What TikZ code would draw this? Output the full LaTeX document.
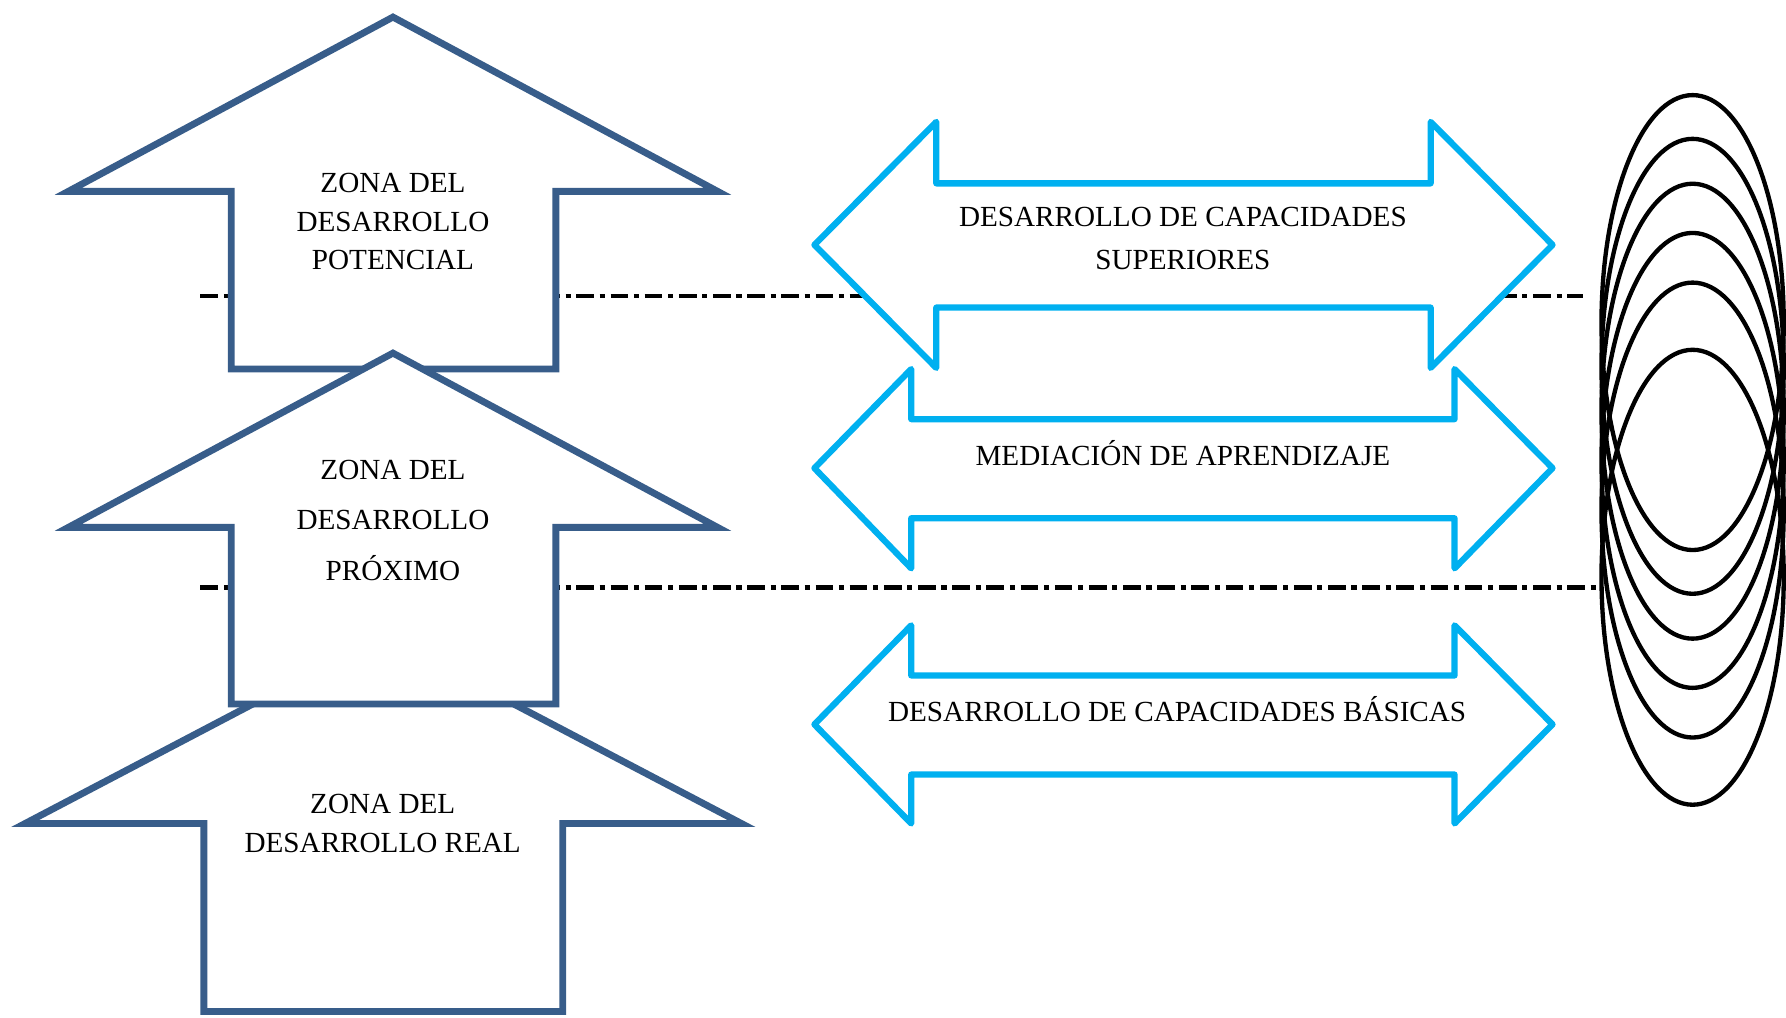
\documentclass[tikz,border=0pt]{standalone}
\usepackage{fontspec}
\setmainfont{Liberation Serif}
\definecolor{zoneblue}{HTML}{385D8A}
\definecolor{skyblue}{HTML}{00B0F0}
\begin{document}
\begin{tikzpicture}[x=1pt,y=-1pt,
  zone/.style={draw=zoneblue, fill=white, line width=6pt, miter limit=10},
  dbl/.style={draw=skyblue, fill=white, line width=5.5pt, line join=round},
  level/.style={draw=black, line width=4pt, dash pattern=on 15.5pt off 5pt on 4.5pt off 5pt},
  ring/.style={draw=black, line width=3.8pt},
  lbl/.style={anchor=base, inner sep=0pt, font=\fontsize{25.6}{30}\selectfont}]
\useasboundingbox (0,0) rectangle (1568,893);

% dash-dot level lines
\coordinate (l1a) at (176,260);
\coordinate (l1b) at (1390,260);
\coordinate (l2a) at (176,516);
\coordinate (l2b) at (1404,516);
\draw[level] (l1a) -- (l1b);
\draw[level] (l2a) -- (l2b);

% block arrows (zones)
\draw[zone] (345,15) -- (630,168) -- (488,168) -- (488,324) -- (203,324) -- (203,168) -- (60,168) -- cycle;
\draw[zone] (336.5,558) -- (651,723) -- (494,723) -- (494,888) -- (179,888) -- (179,723) -- (22,723) -- cycle;
\draw[zone] (345,310) -- (630,463) -- (488,463) -- (488,618) -- (203,618) -- (203,463) -- (60,463) -- cycle;

% double arrows
\draw[dbl] (715,215) -- (822,107) -- (822,161) -- (1256,161) -- (1256,107) -- (1363,215)
  -- (1256,323) -- (1256,270) -- (822,270) -- (822,323) -- cycle;
\draw[dbl] (715,411) -- (800,324) -- (800,368) -- (1277,368) -- (1277,324) -- (1363,411)
  -- (1277,499) -- (1277,455) -- (800,455) -- (800,499) -- cycle;
\draw[dbl] (715,636) -- (800,549) -- (800,593) -- (1277,593) -- (1277,549) -- (1363,636)
  -- (1277,723) -- (1277,680) -- (800,680) -- (800,723) -- cycle;

% ellipses
\foreach \cy in {283.2,321.6,361,404.2,447.8,506.8}
  \draw[ring] (1486,\cy) ellipse [x radius=80pt, y radius=199.7pt];

% zone labels
\node[lbl] (p1) at (345,169) {ZONA DEL};
\node[lbl] (p2) at (345,203) {DESARROLLO};
\node[lbl] (p3) at (345,237) {POTENCIAL};
\node[lbl] (x1) at (345,421) {ZONA DEL};
\node[lbl] (x2) at (345,465) {DESARROLLO};
\node[lbl] (x3) at (345,510) {PRÓXIMO};
\node[lbl] (r1) at (336,714) {ZONA DEL};
\node[lbl] (r2) at (336,748) {DESARROLLO REAL};

% arrow labels
\node[lbl] (s1) at (1038.5,198.5) {DESARROLLO DE CAPACIDADES};
\node[lbl] (s2) at (1038.5,236.5) {SUPERIORES};
\node[lbl] (m1) at (1038.5,408.3) {MEDIACIÓN DE APRENDIZAJE};
\node[lbl] (b1) at (1033.5,633) {DESARROLLO DE CAPACIDADES BÁSICAS};
\end{tikzpicture}
\end{document}
